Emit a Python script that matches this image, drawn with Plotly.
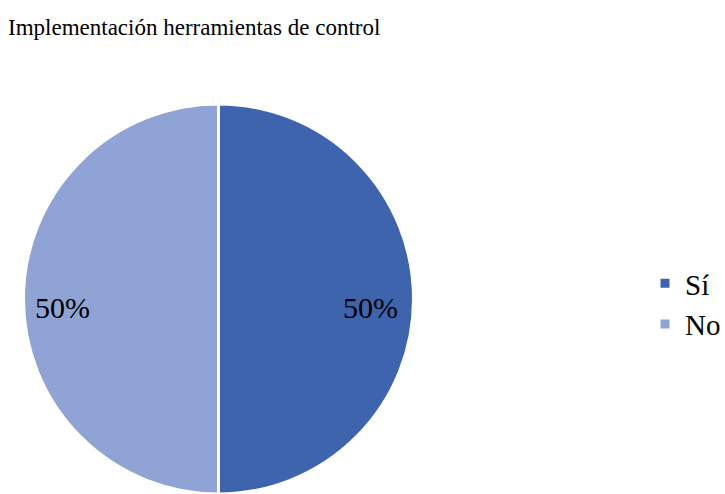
import plotly.graph_objects as go

# Survey answers: share of respondents per option
labels = ["Sí", "No"]
values = [50, 50]
colors = ["#3E64AD", "#8FA3D4"]
title_text = "Implementación herramientas de control"

W, H = 725, 494
FONT = "Liberation Serif"

fig = go.Figure(
    go.Pie(
        labels=labels,
        values=values,
        sort=False,
        direction="clockwise",
        rotation=0,
        marker=dict(colors=colors, line=dict(color="white", width=3)),
        textinfo="none",
        textposition="none",
        hoverinfo="label+percent",
        domain=dict(x=[23.5 / W, 413.5 / W], y=[0.0, 1 - 104 / H]),
    )
)

# Percentage labels written next to each half of the pie
total = sum(values)
label_pos = [(370 / W, 1 - 307 / H), (62 / W, 1 - 307 / H)]
for v, (px, py) in zip(values, label_pos):
    fig.add_annotation(
        x=px, y=py, xref="paper", yref="paper",
        text=f"{round(100 * v / total)}%",
        showarrow=False,
        font=dict(family=FONT, size=30, color="black"),
        xanchor="center", yanchor="middle",
    )

fig.update_layout(
    width=W, height=H,
    margin=dict(l=0, r=0, t=0, b=0, autoexpand=False),
    paper_bgcolor="white",
    plot_bgcolor="white",
    font=dict(family=FONT, color="black"),
    title=dict(
        text=title_text,
        x=8 / W, xanchor="left",
        y=1 - 27 / H, yanchor="middle",
        font=dict(family=FONT, size=23, color="black"),
    ),
    legend=dict(
        x=645 / W, y=1 - 304 / H,
        xanchor="left", yanchor="middle",
        font=dict(family=FONT, size=29, color="black"),
        itemwidth=30,
        bgcolor="rgba(0,0,0,0)",
    ),
    showlegend=True,
)

fig.write_html("out.html")
